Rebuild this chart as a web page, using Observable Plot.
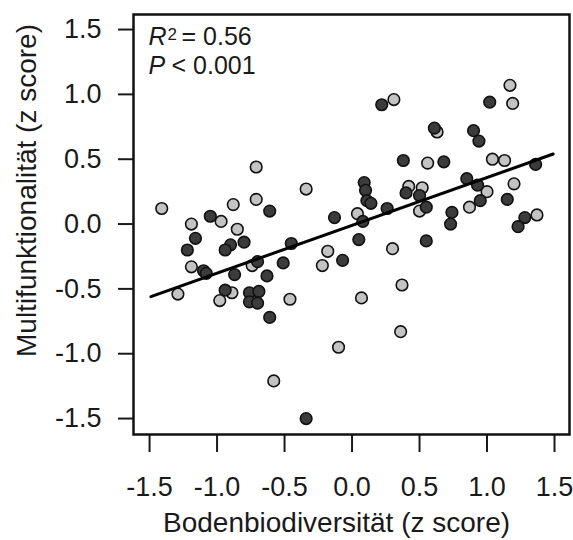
<!DOCTYPE html>
<html><head><meta charset="utf-8">
<script src="https://cdn.jsdelivr.net/npm/d3@7"></script>
<script src="https://cdn.jsdelivr.net/npm/@observablehq/plot@0.6"></script>
<style>
body{margin:0;background:#fff;}
#chart svg{font-family:"Liberation Sans",Arial,sans-serif;}
</style>
</head><body><div id="chart"></div>
<script>
// dark points (group 1)
const darkX = [-1.05,-1.16,-1.22,-1.10,-1.08,-0.70,-0.80,-0.90,-0.94,-0.61,-0.87,-0.63,-0.94,-0.76,-0.69,-0.76,-0.70,-0.61,-0.51,-0.45,-0.34,-0.13,-0.07,0.05,0.08,0.09,0.10,0.11,0.14,0.26,0.22,0.38,0.40,0.50,0.55,0.55,0.61,0.68,0.74,0.73,0.85,0.93,0.90,0.94,0.95,1.02,1.15,1.28,1.23,1.36];
const darkY = [0.06,-0.11,-0.20,-0.36,-0.38,-0.29,-0.14,-0.16,-0.20,0.10,-0.39,-0.40,-0.51,-0.53,-0.52,-0.60,-0.61,-0.72,-0.30,-0.15,-1.50,0.05,-0.28,-0.12,0.02,0.32,0.26,0.18,0.16,0.12,0.92,0.49,0.24,0.22,0.13,-0.13,0.74,0.48,0.09,0.00,0.35,0.30,0.72,0.64,0.18,0.94,0.19,0.05,-0.02,0.46];
// light points (group 2)
const lightX = [-1.41,-1.29,-1.19,-1.19,-0.98,-0.97,-0.89,-0.88,-0.85,-0.71,-0.71,-0.74,-0.58,-0.46,-0.34,-0.22,-0.18,-0.10,0.04,0.07,0.30,0.37,0.36,0.31,0.42,0.52,0.50,0.56,0.63,0.87,1.00,1.04,1.13,1.17,1.19,1.20,1.37];
const lightY = [0.12,-0.54,0.00,-0.33,-0.59,0.02,-0.53,0.15,-0.04,0.44,0.19,-0.32,-1.21,-0.58,0.27,-0.32,-0.21,-0.95,0.08,-0.57,-0.19,-0.47,-0.83,0.96,0.29,0.28,0.10,0.47,0.71,0.13,0.25,0.50,0.49,1.07,0.93,0.31,0.07];
// regression line
const lineX = [-1.49, 1.49];
const lineY = [-0.56, 0.54];
const ticks = [-1.5, -1.0, -0.5, 0.0, 0.5, 1.0, 1.5];
const xTitle = "Bodenbiodiversität (z score)";
const yTitle = "Multifunktionalität (z score)";
const r2Label = ["R", "2", "= 0.56"];
const pLabel = ["P", "< 0.001"];

const dark = darkX.map((x, i) => ({x, y: darkY[i]}));
const light = lightX.map((x, i) => ({x, y: lightY[i]}));
const line = lineX.map((x, i) => ({x, y: lineY[i]}));
const fmt = d => d.toFixed(1);
const ink = "#1a1a1a";

const chart = Plot.plot({
  width: 573, height: 540,
  marginLeft: 133, marginRight: 4, marginTop: 14, marginBottom: 106,
  style: {fontFamily: "'Liberation Sans', Arial, sans-serif", background: "#fff", color: ink},
  x: {domain: [-1.619, 1.611]},
  y: {domain: [-1.623, 1.616]},
  marks: [
    Plot.axisX(ticks, {tickSize: 18, tickPadding: 24, tickFormat: fmt, fontSize: 27, strokeWidth: 2, stroke: ink, fill: ink, label: null}),
    Plot.axisY(ticks, {tickSize: 15, tickPadding: 17, tickFormat: fmt, fontSize: 27, strokeWidth: 2, stroke: ink, fill: ink, label: null}),
    Plot.dot(light, {x: "x", y: "y", r: 5.8, fill: "#c3c3c3", stroke: "#111", strokeWidth: 1.6}),
    Plot.dot(dark, {x: "x", y: "y", r: 5.8, fill: "#3b3b3b", stroke: "#111", strokeWidth: 1.6}),
    Plot.line(line, {x: "x", y: "y", stroke: "#000", strokeWidth: 3}),
    Plot.frame({stroke: "#111", strokeWidth: 2.5}),
    Plot.text([xTitle], {text: d => d, frameAnchor: "bottom", lineAnchor: "bottom", dy: 97, dx: -15, fontSize: 28, fill: ink}),
    Plot.text([yTitle], {text: d => d, frameAnchor: "left", lineAnchor: "bottom", textAnchor: "middle", rotate: -90, dx: -98, dy: -34, fontSize: 28, fill: ink}),
    Plot.text([r2Label[0]], {text: d => d, frameAnchor: "top-left", textAnchor: "start", lineAnchor: "bottom", dx: 15, dy: 30, fontSize: 25, fontStyle: "italic", fill: ink}),
    Plot.text([r2Label[1]], {text: d => d, frameAnchor: "top-left", textAnchor: "start", lineAnchor: "bottom", dx: 34, dy: 25, fontSize: 17, fill: ink}),
    Plot.text([r2Label[2]], {text: d => d, frameAnchor: "top-left", textAnchor: "start", lineAnchor: "bottom", dx: 48, dy: 30, fontSize: 25, fill: ink}),
    Plot.text([pLabel[0]], {text: d => d, frameAnchor: "top-left", textAnchor: "start", lineAnchor: "bottom", dx: 15, dy: 59, fontSize: 25, fontStyle: "italic", fill: ink}),
    Plot.text([pLabel[1]], {text: d => d, frameAnchor: "top-left", textAnchor: "start", lineAnchor: "bottom", dx: 38, dy: 59, fontSize: 25, fill: ink})
  ]
});
document.getElementById("chart").appendChild(chart);
</script>
</body></html>
